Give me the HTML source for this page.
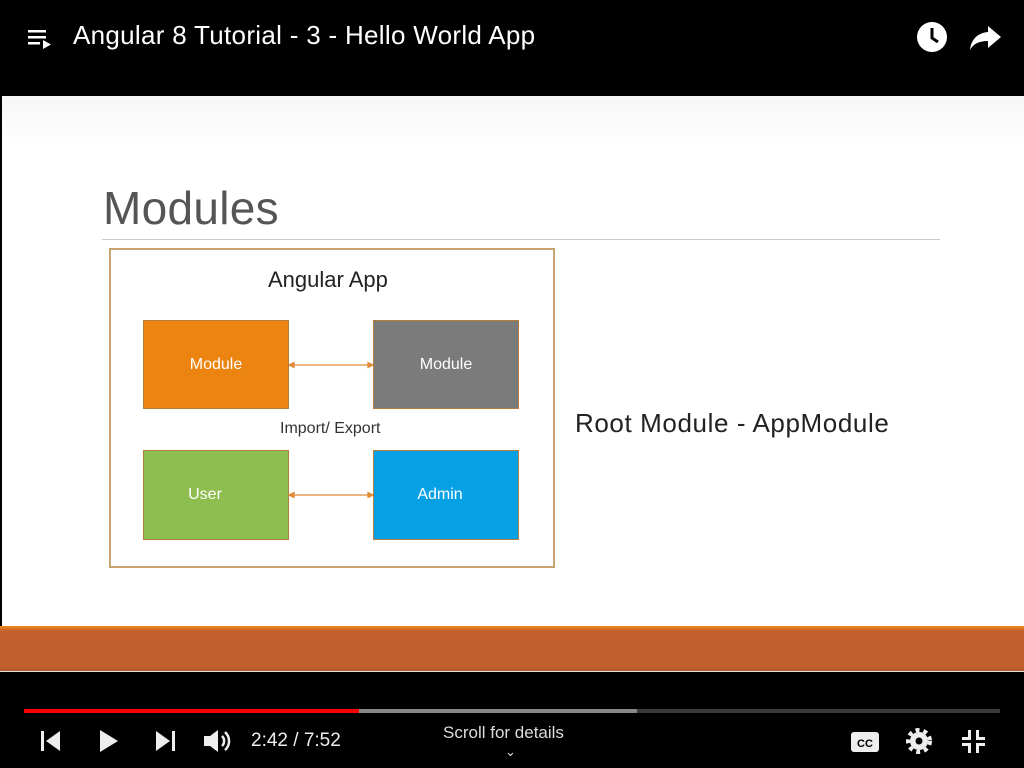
<!DOCTYPE html>
<html><head><style>
body{margin:0;width:1024px;height:768px;background:#000;position:relative;overflow:hidden;font-family:"Liberation Sans",sans-serif}
.a{position:absolute}
.box{position:absolute;color:#fff;font-size:16px;display:flex;align-items:center;justify-content:center;box-sizing:border-box;border:1px solid #b87d3c}
</style></head><body>
<div class="a" style="left:0;top:0;width:1024px;height:96px;background:#000"></div>
<svg class="a" style="left:26px;top:26px" width="30" height="26"><rect x="2" y="4" width="18" height="2.5" fill="#fff"/><rect x="2" y="10" width="18" height="2.5" fill="#fff"/><rect x="2" y="16" width="12" height="2.5" fill="#fff"/><polygon points="17,14 17,23 25,18.5" fill="#fff"/></svg>
<div class="a" style="left:73px;top:20px;color:#fff;font-size:26px;letter-spacing:0.3px">Angular 8 Tutorial - 3 - Hello World App</div>
<svg class="a" style="left:915px;top:20px" width="34" height="34"><circle cx="17" cy="17" r="15" fill="#fff"/><path d="M17 8v10l6 4" stroke="#000" stroke-width="3" fill="none"/></svg>
<svg class="a" style="left:968px;top:22px" width="36" height="30"><path d="M20 4l13 11-13 11v-7C11 19 5 22 2 28c1-10 7-17 18-18z" fill="#fff"/></svg>
<div class="a" style="left:2px;top:96px;width:1022px;height:530px;background:linear-gradient(#f6f6f6,#fff 50px)"></div>
<div class="a" style="left:103px;top:181px;font-size:46px;color:#555;letter-spacing:0.3px">Modules</div>
<div class="a" style="left:102px;top:239px;width:838px;height:1px;background:#c8c8c8"></div>
<div class="a" style="left:109px;top:248px;width:446px;height:320px;border:2px solid #c8a273;box-sizing:border-box;background:#fff"></div>
<div class="a" style="left:268px;top:267px;font-size:22px;color:#222">Angular App</div>
<div class="box" style="left:143px;top:320px;width:146px;height:89px;background:#ec8412">Module</div>
<div class="box" style="left:373px;top:320px;width:146px;height:89px;background:#7b7b7b">Module</div>
<div class="box" style="left:143px;top:450px;width:146px;height:90px;background:#8ebe4f;padding-right:22px">User</div>
<div class="box" style="left:373px;top:450px;width:146px;height:90px;background:#06a1e5;padding-right:12px">Admin</div>
<div class="a" style="left:280px;top:420px;font-size:16px;color:#333">Import/ Export</div>
<svg class="a" style="left:289px;top:358px" width="84" height="140"><g stroke="#e08a3a" stroke-width="1.3" fill="#e08a3a"><line x1="3" y1="7" x2="81" y2="7"/><line x1="3" y1="137" x2="81" y2="137"/><polygon points="0,7 5,4.5 5,9.5"/><polygon points="84,7 79,4.5 79,9.5"/><polygon points="0,137 5,134.5 5,139.5"/><polygon points="84,137 79,134.5 79,139.5"/></g></svg>
<div class="a" style="left:575px;top:408px;font-size:26px;color:#222;letter-spacing:0.6px">Root Module - AppModule</div>
<div class="a" style="left:0;top:626px;width:1024px;height:45px;background:linear-gradient(#f08a1c 0,#c46030 5px,#c05f2e 40px,#b85a2c 45px)"></div>
<div class="a" style="left:0;top:671px;width:1024px;height:1px;background:#ddd"></div>
<div class="a" style="left:24px;top:709px;width:976px;height:4px;background:#3a3a3a"></div>
<div class="a" style="left:24px;top:709px;width:613px;height:4px;background:#888"></div>
<div class="a" style="left:24px;top:709px;width:335px;height:4px;background:#f00"></div>
<svg class="a" style="left:38px;top:728px" width="200" height="26"><g fill="#eee"><rect x="3" y="3" width="3" height="20"/><polygon points="22,3 22,23 8,13"/><polygon points="62,2 62,24 80,13"/><polygon points="118,3 118,23 132,13"/><rect x="134" y="3" width="3" height="20"/><polygon points="166,8 172,8 180,2 180,24 172,18 166,18"/><path d="M184 8a7 7 0 0 1 0 10M187 4a12 12 0 0 1 0 18" stroke="#eee" stroke-width="2.5" fill="none"/></g></svg>
<div class="a" style="left:251px;top:730px;color:#eee;font-size:19px">2:42 / 7:52</div>
<div class="a" style="left:443px;top:723px;color:#ddd;font-size:17px">Scroll for details</div>
<div class="a" style="left:505px;top:744px;color:#ddd;font-size:13px">⌄</div>
<svg class="a" style="left:848px;top:728px" width="145" height="28"><rect x="3" y="4" width="28" height="20" rx="3" fill="#eee"/><text x="17" y="19" font-size="11" font-weight="bold" text-anchor="middle" fill="#000" font-family="Liberation Sans">CC</text><circle cx="71" cy="13" r="9" fill="#eee"/><circle cx="71" cy="13" r="11" fill="none" stroke="#eee" stroke-width="4" stroke-dasharray="4 4"/><circle cx="71" cy="13" r="3.5" fill="#000"/><g fill="#eee"><rect x="120" y="2" width="3" height="9"/><rect x="114" y="9" width="9" height="3"/><rect x="128" y="2" width="3" height="9"/><rect x="128" y="9" width="9" height="3"/><rect x="114" y="15" width="9" height="3"/><rect x="120" y="15" width="3" height="10"/><rect x="128" y="15" width="9" height="3"/><rect x="128" y="15" width="3" height="10"/></g></svg>
</body></html>
